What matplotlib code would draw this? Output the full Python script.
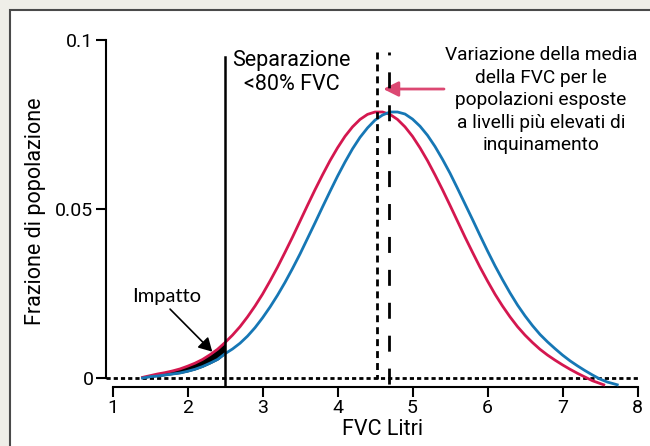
import matplotlib
matplotlib.use("Agg")
import matplotlib.pyplot as plt
from matplotlib.patches import Rectangle

plt.rcParams['font.family'] = ['Roboto', 'DejaVu Sans']
plt.rcParams['lines.scale_dashes'] = False

# curves (FVC litres -> population fraction)
x_red = [1.4, 1.5, 1.6, 1.7, 1.8, 1.9, 2.0, 2.1, 2.2, 2.3, 2.4, 2.5, 2.6, 2.7, 2.8, 2.9,
         3.0, 3.1, 3.2, 3.3, 3.4, 3.5, 3.6, 3.7, 3.8, 3.9, 4.0, 4.1, 4.2, 4.3, 4.4, 4.5,
         4.6, 4.7, 4.8, 4.9, 5.0, 5.1, 5.2, 5.3, 5.4, 5.5, 5.6, 5.7, 5.8, 5.9, 6.0, 6.1,
         6.2, 6.3, 6.4, 6.5, 6.6, 6.7, 6.8, 6.9, 7.0, 7.1, 7.2, 7.3, 7.4, 7.5, 7.55]
y_red = [0.0002, 0.0007, 0.0012, 0.0016, 0.0021, 0.0027, 0.0035, 0.0044, 0.0055, 0.0069,
         0.0085, 0.0105, 0.0127, 0.0152, 0.0181, 0.0213, 0.0248, 0.0287, 0.0328, 0.0372,
         0.0417, 0.0464, 0.0511, 0.0557, 0.0601, 0.0643, 0.0681, 0.0715, 0.0743, 0.0765,
         0.0780, 0.0787, 0.0787, 0.0780, 0.0765, 0.0743, 0.0715, 0.0681, 0.0643, 0.0601,
         0.0557, 0.0511, 0.0464, 0.0417, 0.0372, 0.0328, 0.0287, 0.0248, 0.0213, 0.0181,
         0.0152, 0.0127, 0.0105, 0.0085, 0.0068, 0.0053, 0.0039, 0.0026, 0.0014, 0.0003,
         -0.0008, -0.0016, -0.0020]

x_blue = [1.4, 1.5, 1.6, 1.7, 1.8, 1.9, 2.0, 2.1, 2.2, 2.3, 2.4, 2.5, 2.6, 2.7, 2.8, 2.9,
          3.0, 3.1, 3.2, 3.3, 3.4, 3.5, 3.6, 3.7, 3.8, 3.9, 4.0, 4.1, 4.2, 4.3, 4.4, 4.5,
          4.6, 4.7, 4.8, 4.9, 5.0, 5.1, 5.2, 5.3, 5.4, 5.5, 5.6, 5.7, 5.8, 5.9, 6.0, 6.1,
          6.2, 6.3, 6.4, 6.5, 6.6, 6.7, 6.8, 6.9, 7.0, 7.1, 7.2, 7.3, 7.4, 7.5, 7.6, 7.7,
          7.73]
y_blue = [0.0, 0.0004, 0.0006, 0.0009, 0.0012, 0.0015, 0.0020, 0.0026, 0.0034, 0.0044,
          0.0055, 0.0072, 0.0086, 0.0103, 0.0124, 0.0149, 0.0178, 0.0210, 0.0245, 0.0283,
          0.0324, 0.0367, 0.0413, 0.0459, 0.0506, 0.0552, 0.0597, 0.0639, 0.0678, 0.0712,
          0.0740, 0.0763, 0.0778, 0.0787, 0.0787, 0.0781, 0.0766, 0.0745, 0.0718, 0.0685,
          0.0647, 0.0606, 0.0561, 0.0515, 0.0469, 0.0422, 0.0376, 0.0332, 0.0291, 0.0252,
          0.0216, 0.0184, 0.0155, 0.0129, 0.0107, 0.0087, 0.0068, 0.0051, 0.0036, 0.0022,
          0.0009, -0.0003, -0.0012, -0.0018, -0.0020]

cutoff = 2.5          # separazione <80% FVC
mean_red = 4.53
mean_blue = 4.68
x_ticks = [1, 2, 3, 4, 5, 6, 7, 8]
y_ticks = [0, 0.05, 0.1]
y_ticklabels = ['0', '0.05', '0.1']

red = '#d4174f'
blue = '#1677b5'
pink = '#dc4872'

fig = plt.figure(figsize=(6.5, 4.46), dpi=100)
fig.patch.set_facecolor('#efeee8')
fig.patches.append(Rectangle((10 / 650, -0.05), 1.0, 1.05 - 10 / 446, transform=fig.transFigure,
                             facecolor='white', edgecolor='#4a4a4a', lw=1.5, zorder=-5))

ax = fig.add_axes([106 / 650, 1 - 386.5 / 446, 531.5 / 650, 346.5 / 446])
ax.patch.set_alpha(0)
ax.set_xlim(0.913, 8.0)
ax.set_ylim(-0.0025, 0.1)

# dotted zero line
ax.plot([0.913, 8.0], [0, 0], color='black', lw=2, dashes=(3, 2.2), zorder=2)

# impact area between the two curves below the cut-off
n_cut = x_red.index(cutoff) + 1
ax.fill_between(x_red[:n_cut], y_blue[:n_cut], y_red[:n_cut], color='black', lw=0.8,
                edgecolor='black', zorder=3)

ax.plot(x_red, y_red, color=red, lw=2, zorder=4, solid_joinstyle='round')
ax.plot(x_blue, y_blue, color=blue, lw=2, zorder=4, solid_joinstyle='round')

# vertical lines
ax.plot([cutoff, cutoff], [0.095, -0.0025], color='black', lw=1.8, zorder=5)
ax.plot([mean_red, mean_red], [0.0965, -0.0003], color='black', lw=2, dashes=(5, 3.6), zorder=5)
ax.plot([mean_blue, mean_blue], [0.0965, -0.0025], color='black', lw=2,
        linestyle=(9.4, (11.5, 12.2)), zorder=5)

# spines / ticks
for s in ['top', 'right']:
    ax.spines[s].set_visible(False)
ax.spines['left'].set_bounds(0, 0.1)
ax.spines['bottom'].set_bounds(1, 8)
ax.spines['left'].set_linewidth(1.5)
ax.spines['bottom'].set_linewidth(1.5)
ax.set_xticks(x_ticks)
ax.set_yticks(y_ticks)
ax.set_yticklabels(y_ticklabels)
ax.tick_params(axis='both', direction='out', length=7, width=1.5, labelsize=14, pad=2)

ax.set_xlabel('FVC Litri', fontsize=15.5)
ax.xaxis.set_label_coords(0.521, -0.093)
ax.set_ylabel('Frazione di popolazione', fontsize=15.5)
ax.yaxis.set_label_coords(-0.112, 0.5065)

# texts
ax.text(3.39, 0.0905, 'Separazione\n<80% FVC', fontsize=15.5, ha='center', va='center',
        linespacing=1.2)
ax.text(6.71, 0.0822, 'Variazione della media\ndella FVC per le\npopolazioni esposte\n'
        'a livelli più elevati di\ninquinamento', fontsize=13.8, ha='center', va='center',
        linespacing=1.33, clip_on=False)
ax.text(1.72, 0.0240, 'Impatto', fontsize=14.5, family=['Lato', 'DejaVu Sans'],
        ha='center', va='center')

ax.annotate('', xy=(2.33, 0.0078), xytext=(1.767, 0.0204),
            arrowprops=dict(arrowstyle='-|>,head_length=0.8,head_width=0.45',
                            color='black', lw=1.2, shrinkA=0, shrinkB=0))
ax.annotate('', xy=(mean_blue - 0.07, 0.0855), xytext=(5.42, 0.0855),
            arrowprops=dict(arrowstyle='-|>,head_length=0.9,head_width=0.45',
                            color=pink, lw=2, shrinkA=0, shrinkB=0))

fig.savefig('out.png', dpi=100, facecolor=fig.get_facecolor())
